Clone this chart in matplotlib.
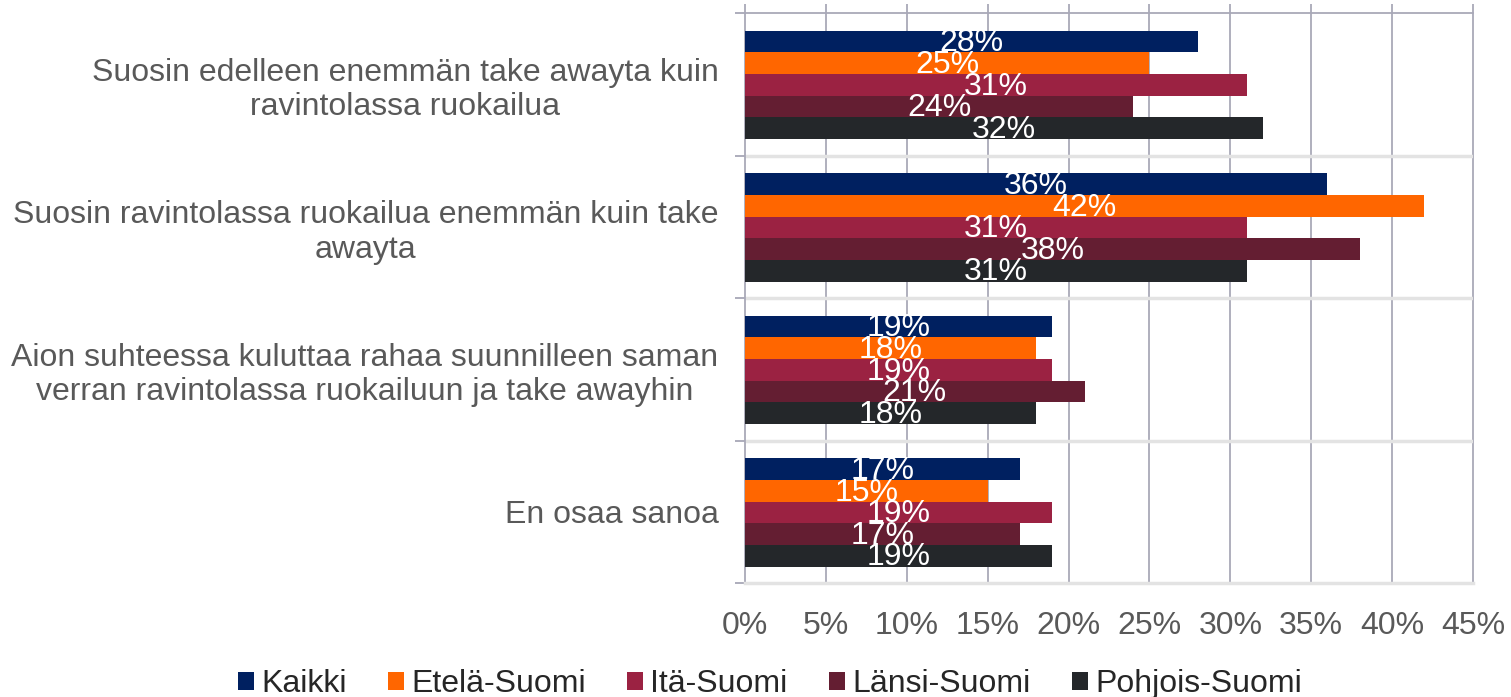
import matplotlib
matplotlib.use("Agg")
import matplotlib.pyplot as plt
from matplotlib.patches import Patch
import numpy as np

plt.rcParams['font.family'] = ['Liberation Sans', 'DejaVu Sans']

categories = [
    "Suosin edelleen enemmän take awayta kuin\nravintolassa ruokailua",
    "Suosin ravintolassa ruokailua enemmän kuin take\nawayta",
    "Aion suhteessa kuluttaa rahaa suunnilleen saman\nverran ravintolassa ruokailuun ja take awayhin",
    "En osaa sanoa",
]
series = ["Kaikki", "Etelä-Suomi", "Itä-Suomi", "Länsi-Suomi", "Pohjois-Suomi"]
values = {
    "Kaikki":        [28, 36, 19, 17],
    "Etelä-Suomi":   [25, 42, 18, 15],
    "Itä-Suomi":     [31, 31, 19, 19],
    "Länsi-Suomi":   [24, 38, 21, 17],
    "Pohjois-Suomi": [32, 31, 18, 19],
}
colors = ["#002060", "#FF6600", "#9B2242", "#641E32", "#24272A"]
xticks = [0, 5, 10, 15, 20, 25, 30, 35, 40, 45]

fig = plt.figure(figsize=(15.11, 6.97), dpi=100)
ax = fig.add_axes([745/1511, 1-583/697, (1473-745)/1511, (583-13)/697])

bh = 0.152
y = np.arange(len(categories))
for j, s in enumerate(series):
    pos = y + (j - 2) * bh + 0.005
    vals = values[s]
    ax.barh(pos, vals, height=bh, color=colors[j], zorder=3)
    for p, v in zip(pos, vals):
        ax.text(v / 2, p + 0.012, f"{v}%", ha='center', va='center',
                color='white', fontsize=23, zorder=4)

ax.set_xlim(0, 45)
ax.set_ylim(3.5, -0.5)
ax.set_xticks(xticks)
ax.set_xticklabels([f"{t}%" for t in xticks])
ax.tick_params(axis='x', length=0, pad=20, labelsize=23, labelcolor='#595959')

ax.set_yticks(y)
ax.set_yticklabels(categories)
ax.set_yticks([-0.5, 0.5, 1.5, 2.5, 3.5], minor=True)
ax.tick_params(axis='y', which='major', length=0, pad=19, labelsize=23, labelcolor='#595959')
ax.tick_params(axis='y', which='minor', length=7, width=1.2, color='#A0A0B0')
for lbl in ax.get_yticklabels():
    lbl.set_multialignment('center')

# gridlines
gridc = '#A9A9B8'
ax.vlines(xticks[1:], -0.565, 3.5, colors=gridc, lw=1.3, zorder=1, clip_on=False)
ax.hlines([0.5, 1.5, 2.5], 0, 45, colors='#E3E3E3', lw=2.5, zorder=1)

ax.spines['right'].set_visible(False)
ax.spines['top'].set_color(gridc)
ax.spines['top'].set_linewidth(1.3)
ax.spines['bottom'].set_color('#E3E3E3')
ax.spines['bottom'].set_linewidth(2.5)
ax.spines['left'].set_color(gridc)
ax.spines['left'].set_linewidth(1.3)
ax.vlines([0], -0.565, -0.5, colors=gridc, lw=1.3, clip_on=False)

handles = [Patch(facecolor=c, label=s) for c, s in zip(colors, series)]
fig.legend(handles=handles, loc='center', bbox_to_anchor=(770/1511, 1-684/697),
           ncol=5, frameon=False, fontsize=23, handlelength=0.5, handleheight=0.5,
           handletextpad=0.22, columnspacing=1.3, labelcolor='#262626',
           borderpad=0, borderaxespad=0)

fig.savefig("out.png", dpi=100)
